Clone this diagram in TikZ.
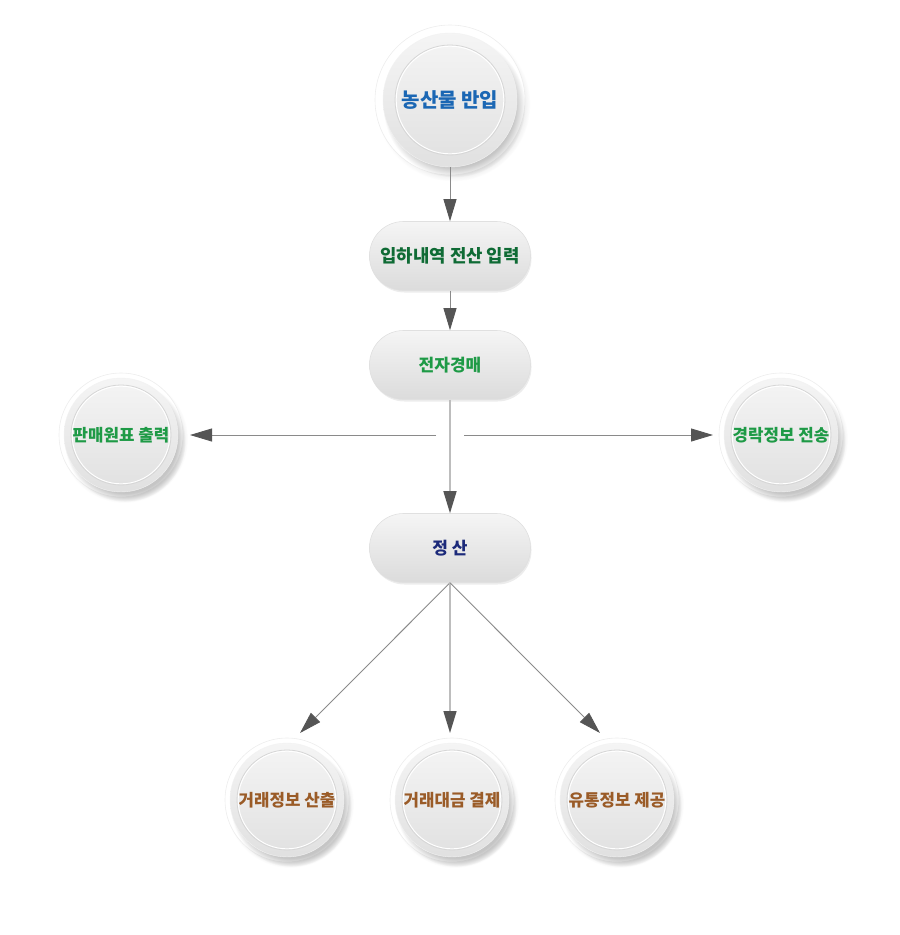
\documentclass[tikz,border=0pt]{standalone}
\usepackage{fontspec}
\newfontfamily\kr{Noto Sans CJK KR}
\usetikzlibrary{arrows.meta,shadows,shadings}
\definecolor{cblue}{HTML}{1B67B4}
\definecolor{cdgreen}{HTML}{0F6B35}
\definecolor{cgreen}{HTML}{1E9A46}
\definecolor{cnavy}{HTML}{1C2A7A}
\definecolor{cbrown}{HTML}{9A5B27}
\definecolor{lineA}{HTML}{BDBDBD}
\definecolor{lineB}{HTML}{8A8A8A}
\definecolor{tipc}{HTML}{555555}
\tikzset{
  halo/.style={circle, inner sep=0pt, minimum size=#1, fill=white, draw=black!7, line width=0.6pt,
    circular drop shadow={shadow xshift=3pt, shadow yshift=-4pt, shadow scale=1.03, opacity=0.22}},
  disc/.style={circle, inner sep=0pt, minimum size=#1, top color=black!4, bottom color=black!12, draw=black!5,
    circular drop shadow={shadow xshift=4pt, shadow yshift=-6pt, shadow scale=1.06, opacity=0.45},
    font=\kr\bfseries\fontsize{16.8}{19}\selectfont},
  ringo/.style={draw=black!16, line width=0.8pt},
  ringi/.style={draw=white, line width=0.9pt},
  pill/.style={rectangle, rounded corners=34pt, minimum width=161pt, minimum height=69pt, inner sep=0pt,
    top color=black!4, bottom color=black!14, middle color=black!9, draw=black!12, line width=0.6pt,
    drop shadow={shadow xshift=1pt, shadow yshift=-2pt, opacity=0.15},
    font=\kr\bfseries\fontsize{17}{19}\selectfont},
  conA/.style={draw=lineA, line width=1.5pt, -{Triangle[length=22pt,width=13pt,color=tipc]}},
  conB/.style={draw=lineB, line width=0.9pt, -{Triangle[length=22pt,width=13pt,color=tipc]}},
}
\begin{document}
\begin{tikzpicture}[x=1pt,y=-1pt]
\useasboundingbox (0,0) rectangle (900,935);
% halos
\node[halo=150pt] (htop) at (450,100) {};
\node[halo=124pt] (hl) at (121,435) {};
\node[halo=124pt] (hr) at (781,435) {};
\node[halo=124pt] (hb1) at (287,800) {};
\node[halo=124pt] (hb2) at (452,800) {};
\node[halo=124pt] (hb3) at (617,800) {};
% discs
\node[disc=134pt, font=\kr\bfseries\fontsize{20}{22}\selectfont, text=cblue] (top) at (450,100) {농산물 반입};
\node[disc=114pt, text=cgreen] (left) at (121,435) {판매원표 출력};
\node[disc=114pt, text=cgreen] (right) at (781,435) {경락정보 전송};
\node[disc=114pt, text=cbrown] (b1) at (287,800) {거래정보 산출};
\node[disc=114pt, text=cbrown] (b2) at (452,800) {거래대금 결제};
\node[disc=114pt, text=cbrown] (b3) at (617,800) {유통정보 제공};
% inner rings
\foreach \n/\r in {top/55, left/50, right/50, b1/50, b2/50, b3/50}{
  \draw[ringo] (\n.center) circle[radius=\r pt];
  \draw[ringi] (\n.center) circle[radius=\r pt - 1.2pt];
}
% pills
\node[pill, text=cdgreen, font=\kr\bfseries\fontsize{17.8}{19}\selectfont] (p1) at (450,256) {입하내역 전산 입력};
\node[pill, text=cgreen] (p2) at (450,365) {전자경매};
\node[pill, text=cnavy] (p3) at (450,548) {정 산};
% free ends
\coordinate (cl) at (436,435);
\coordinate (cr) at (464,435);
\coordinate (tl) at (190,435);
\coordinate (tr) at (713,435);
\coordinate (t1) at (300,733);
\coordinate (t2) at (450,733);
\coordinate (t3) at (600,733);
% connectors
\draw[conB] (top) -- (p1);
\draw[conB] (p1) -- (p2);
\draw[conA] (p2) -- (p3);
\draw[conB] (cl) -- (tl);
\draw[conB] (cr) -- (tr);
\draw[conB] (p3.south) -- (t1);
\draw[conA] (p3.south) -- (t2);
\draw[conB] (p3.south) -- (t3);
\end{tikzpicture}
\end{document}
